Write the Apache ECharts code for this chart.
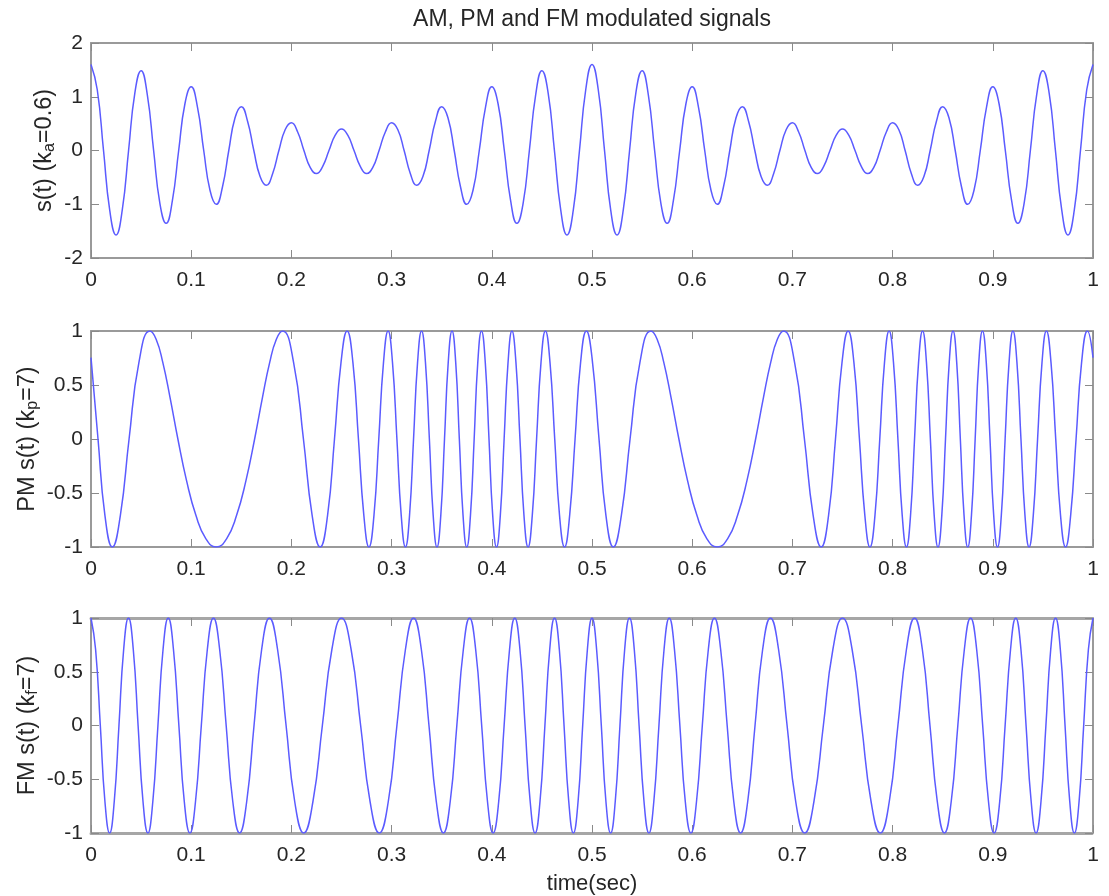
<!DOCTYPE html>
<html><head><meta charset="utf-8">
<script src="https://cdn.jsdelivr.net/npm/echarts@6/dist/echarts.min.js"></script>
<style>html,body{margin:0;padding:0;background:#fff}#c{width:1109px;height:896px}</style>
</head><body><div id="c"></div>
<script>
// ---- data (peaks, troughs, zero crossings and mid-slope points of each trace) ----
const amTime = [0, 0.00625, 0.0125, 0.01875, 0.025, 0.03125, 0.0375, 0.04375, 0.05, 0.05625, 0.0625, 0.06875, 0.075, 0.08125, 0.0875, 0.09375,
  0.1, 0.10625, 0.1125, 0.11875, 0.125, 0.13125, 0.1375, 0.14375, 0.15, 0.15625, 0.1625, 0.16875, 0.175, 0.18125, 0.1875, 0.19375,
  0.2, 0.20625, 0.2125, 0.21875, 0.225, 0.23125, 0.2375, 0.24375, 0.25, 0.25625, 0.2625, 0.26875, 0.275, 0.28125, 0.2875, 0.29375,
  0.3, 0.30625, 0.3125, 0.31875, 0.325, 0.33125, 0.3375, 0.34375, 0.35, 0.35625, 0.3625, 0.36875, 0.375, 0.38125, 0.3875, 0.39375,
  0.4, 0.40625, 0.4125, 0.41875, 0.425, 0.43125, 0.4375, 0.44375, 0.45, 0.45625, 0.4625, 0.46875, 0.475, 0.48125, 0.4875, 0.49375,
  0.5, 0.50625, 0.5125, 0.51875, 0.525, 0.53125, 0.5375, 0.54375, 0.55, 0.55625, 0.5625, 0.56875, 0.575, 0.58125, 0.5875, 0.59375,
  0.6, 0.60625, 0.6125, 0.61875, 0.625, 0.63125, 0.6375, 0.64375, 0.65, 0.65625, 0.6625, 0.66875, 0.675, 0.68125, 0.6875, 0.69375,
  0.7, 0.70625, 0.7125, 0.71875, 0.725, 0.73125, 0.7375, 0.74375, 0.75, 0.75625, 0.7625, 0.76875, 0.775, 0.78125, 0.7875, 0.79375,
  0.8, 0.80625, 0.8125, 0.81875, 0.825, 0.83125, 0.8375, 0.84375, 0.85, 0.85625, 0.8625, 0.86875, 0.875, 0.88125, 0.8875, 0.89375,
  0.9, 0.90625, 0.9125, 0.91875, 0.925, 0.93125, 0.9375, 0.94375, 0.95, 0.95625, 0.9625, 0.96875, 0.975, 0.98125, 0.9875, 0.99375, 1.0];
const amValue = [1.6, 1.130, 0, -1.120, -1.571, -1.099, 0, 1.069, 1.485, 1.030, 0, -0.983, -1.353, -0.929, 0, 0.870,
  1.185, 0.806, 0, -0.740, -1.0, -0.674, 0, 0.608, 0.815, 0.545, 0, -0.485, -0.647, -0.432, 0, 0.385,
  0.515, 0.345, 0, -0.315, -0.429, -0.295, 0, 0.284, 0.4, 0.284, 0, -0.295, -0.429, -0.315, 0, 0.345,
  0.515, 0.385, 0, -0.432, -0.647, -0.485, 0, 0.545, 0.815, 0.608, 0, -0.674, -1.0, -0.740, 0, 0.806,
  1.185, 0.870, 0, -0.929, -1.353, -0.983, 0, 1.030, 1.485, 1.069, 0, -1.099, -1.571, -1.120, 0, 1.130,
  1.6, 1.130, 0, -1.120, -1.571, -1.099, 0, 1.069, 1.485, 1.030, 0, -0.983, -1.353, -0.929, 0, 0.870,
  1.185, 0.806, 0, -0.740, -1.0, -0.674, 0, 0.608, 0.815, 0.545, 0, -0.485, -0.647, -0.432, 0, 0.385,
  0.515, 0.345, 0, -0.315, -0.429, -0.295, 0, 0.284, 0.4, 0.284, 0, -0.295, -0.429, -0.315, 0, 0.345,
  0.515, 0.385, 0, -0.432, -0.647, -0.485, 0, 0.545, 0.815, 0.608, 0, -0.674, -1.0, -0.740, 0, 0.806,
  1.185, 0.870, 0, -0.929, -1.353, -0.983, 0, 1.030, 1.485, 1.069, 0, -1.099, -1.571, -1.120, 0, 1.130, 1.6];

const pmTime = [0, 0.0070, 0.0139, 0.0213, 0.0293, 0.0380, 0.0478, 0.0588,
  0.0650, 0.0717, 0.0789, 0.0867, 0.0953, 0.1047, 0.1147, 0.1250, 0.1353, 0.1453, 0.1547, 0.1633, 0.1711, 0.1783, 0.1850, 0.1912,
  0.2022, 0.2120, 0.2207, 0.2287, 0.2361, 0.2430, 0.2495, 0.2556, 0.2614, 0.2669, 0.2723, 0.2774, 0.2824, 0.2872,
  0.2919, 0.2965, 0.3009, 0.3053, 0.3096, 0.3138, 0.3179, 0.3219, 0.3259, 0.3299,
  0.3338, 0.3377, 0.3415, 0.3453, 0.3491, 0.3528, 0.3565, 0.3603, 0.3640, 0.3676,
  0.3713, 0.3750, 0.3787, 0.3824, 0.3860, 0.3897, 0.3935, 0.3972, 0.4009, 0.4047,
  0.4085, 0.4123, 0.4162, 0.4201, 0.4241, 0.4281, 0.4321, 0.4362, 0.4404, 0.4447,
  0.4491, 0.4535, 0.4581, 0.4628, 0.4676, 0.4726, 0.4777, 0.4831, 0.4886, 0.4944,
  0.5, 0.5070, 0.5139, 0.5213, 0.5293, 0.5380, 0.5478, 0.5588,
  0.5650, 0.5717, 0.5789, 0.5867, 0.5953, 0.6047, 0.6147, 0.6250, 0.6353, 0.6453, 0.6547, 0.6633, 0.6711, 0.6783, 0.6850, 0.6912,
  0.7022, 0.7120, 0.7207, 0.7287, 0.7361, 0.7430, 0.7495, 0.7556, 0.7614, 0.7669, 0.7723, 0.7774, 0.7824, 0.7872,
  0.7919, 0.7965, 0.8009, 0.8053, 0.8096, 0.8138, 0.8179, 0.8219, 0.8259, 0.8299,
  0.8338, 0.8377, 0.8415, 0.8453, 0.8491, 0.8528, 0.8565, 0.8603, 0.8640, 0.8676,
  0.8713, 0.8750, 0.8787, 0.8824, 0.8860, 0.8897, 0.8935, 0.8972, 0.9009, 0.9047,
  0.9085, 0.9123, 0.9162, 0.9201, 0.9241, 0.9281, 0.9321, 0.9362, 0.9404, 0.9447,
  0.9491, 0.9535, 0.9581, 0.9628, 0.9676, 0.9726, 0.9777, 0.9831, 0.9886, 0.9944, 1.0];
const pmValue = [0.754, 0, -0.707, -1, -0.707, 0, 0.707, 1,
  0.924, 0.707, 0.383, 0, -0.383, -0.707, -0.924, -1, -0.924, -0.707, -0.383, 0, 0.383, 0.707, 0.924, 1,
  0.707, 0, -0.707, -1, -0.707, 0, 0.707, 1, 0.707, 0, -0.707, -1, -0.707, 0, 0.707, 1,
  0.707, 0, -0.707, -1, -0.707, 0, 0.707, 1, 0.707, 0, -0.707, -1, -0.707, 0, 0.707, 1,
  0.707, 0, -0.707, -1, -0.707, 0, 0.707, 1, 0.707, 0, -0.707, -1, -0.707, 0, 0.707, 1,
  0.707, 0, -0.707, -1, -0.707, 0, 0.707, 1, 0.707, 0, -0.707, -1, -0.707, 0, 0.707, 1,
  0.754, 0, -0.707, -1, -0.707, 0, 0.707, 1,
  0.924, 0.707, 0.383, 0, -0.383, -0.707, -0.924, -1, -0.924, -0.707, -0.383, 0, 0.383, 0.707, 0.924, 1,
  0.707, 0, -0.707, -1, -0.707, 0, 0.707, 1, 0.707, 0, -0.707, -1, -0.707, 0, 0.707, 1,
  0.707, 0, -0.707, -1, -0.707, 0, 0.707, 1, 0.707, 0, -0.707, -1, -0.707, 0, 0.707, 1,
  0.707, 0, -0.707, -1, -0.707, 0, 0.707, 1, 0.707, 0, -0.707, -1, -0.707, 0, 0.707, 1,
  0.707, 0, -0.707, -1, -0.707, 0, 0.707, 1, 0.707, 0, -0.707, -1, -0.707, 0, 0.707, 1,
  0.754];

const fmTime = [0, 0.0046, 0.0093, 0.0139, 0.0186, 0.0232, 0.0279, 0.0326, 0.0374, 0.0422,
  0.0470, 0.0519, 0.0568, 0.0617, 0.0668, 0.0719, 0.0771, 0.0823, 0.0877, 0.0931,
  0.0987, 0.1043, 0.1101, 0.1161, 0.1222, 0.1284, 0.1349, 0.1415, 0.1483, 0.1554,
  0.1627, 0.1703, 0.1781, 0.1862, 0.1947, 0.2033, 0.2123, 0.2215, 0.2309, 0.2404,
  0.25, 0.2596, 0.2691, 0.2785, 0.2877, 0.2967, 0.3053, 0.3138, 0.3219, 0.3297,
  0.3373, 0.3446, 0.3517, 0.3585, 0.3651, 0.3716, 0.3778, 0.3839, 0.3899, 0.3957,
  0.4013, 0.4069, 0.4123, 0.4177, 0.4229, 0.4281, 0.4332, 0.4383, 0.4432, 0.4481,
  0.4530, 0.4578, 0.4626, 0.4674, 0.4721, 0.4768, 0.4814, 0.4861, 0.4907, 0.4954,
  0.5, 0.5046, 0.5093, 0.5139, 0.5186, 0.5232, 0.5279, 0.5326, 0.5374, 0.5422,
  0.5470, 0.5519, 0.5568, 0.5617, 0.5668, 0.5719, 0.5771, 0.5823, 0.5877, 0.5931,
  0.5987, 0.6043, 0.6101, 0.6161, 0.6222, 0.6284, 0.6349, 0.6415, 0.6483, 0.6554,
  0.6627, 0.6703, 0.6781, 0.6862, 0.6947, 0.7033, 0.7123, 0.7215, 0.7309, 0.7404,
  0.75, 0.7596, 0.7691, 0.7785, 0.7877, 0.7967, 0.8053, 0.8138, 0.8219, 0.8297,
  0.8373, 0.8446, 0.8517, 0.8585, 0.8651, 0.8716, 0.8778, 0.8839, 0.8899, 0.8957,
  0.9013, 0.9069, 0.9123, 0.9177, 0.9229, 0.9281, 0.9332, 0.9383, 0.9432, 0.9481,
  0.9530, 0.9578, 0.9626, 0.9674, 0.9721, 0.9768, 0.9814, 0.9861, 0.9907, 0.9954, 1.0];
const fmValue = [
  1, 0.707, 0, -0.707, -1, -0.707, 0, 0.707, 1, 0.707, 0, -0.707, -1, -0.707, 0, 0.707,
  1, 0.707, 0, -0.707, -1, -0.707, 0, 0.707, 1, 0.707, 0, -0.707, -1, -0.707, 0, 0.707,
  1, 0.707, 0, -0.707, -1, -0.707, 0, 0.707, 1, 0.707, 0, -0.707, -1, -0.707, 0, 0.707,
  1, 0.707, 0, -0.707, -1, -0.707, 0, 0.707, 1, 0.707, 0, -0.707, -1, -0.707, 0, 0.707,
  1, 0.707, 0, -0.707, -1, -0.707, 0, 0.707, 1, 0.707, 0, -0.707, -1, -0.707, 0, 0.707,
  1, 0.707, 0, -0.707, -1, -0.707, 0, 0.707, 1, 0.707, 0, -0.707, -1, -0.707, 0, 0.707,
  1, 0.707, 0, -0.707, -1, -0.707, 0, 0.707, 1, 0.707, 0, -0.707, -1, -0.707, 0, 0.707,
  1, 0.707, 0, -0.707, -1, -0.707, 0, 0.707, 1, 0.707, 0, -0.707, -1, -0.707, 0, 0.707,
  1, 0.707, 0, -0.707, -1, -0.707, 0, 0.707, 1, 0.707, 0, -0.707, -1, -0.707, 0, 0.707,
  1, 0.707, 0, -0.707, -1, -0.707, 0, 0.707, 1, 0.707, 0, -0.707, -1, -0.707, 0, 0.707,
  1];

const titleText = 'AM, PM and FM modulated signals';
const xAxisName = 'time(sec)';
const yAxisNames = ['s(t) (k{sub|a}=0.6)', 'PM s(t) (k{sub|p}=7)', 'FM s(t) (k{sub|f}=7)'];
const xRange = { min: 0, max: 1, interval: 0.1 };
const yRanges = [{ min: -2, max: 2, interval: 1 }, { min: -1, max: 1, interval: 0.5 }, { min: -1, max: 1, interval: 0.5 }];

// ---- styling / layout ----
const FONT = '"Liberation Sans", Arial, Helvetica, sans-serif';
const TXT = '#262626';
const AXC = '#9a9a9a';
const LINE = '#5b5bff';
const gridBoxes = [{ top: 43, height: 215 }, { top: 331, height: 216 }, { top: 618, height: 215 }];
const yNameGaps = [33, 50, 50];

const traces = [[amTime, amValue], [pmTime, pmValue], [fmTime, fmValue]];

const grid = [], xAxis = [], yAxis = [], series = [];
gridBoxes.forEach((g, i) => {
  grid.push({ left: 91, width: 1002, top: g.top, height: g.height, outerBoundsMode: 'none', containLabel: false });
  const dotted = i === 2;
  const hLine = dotted ? { color: '#a6a6a6', width: 3, type: [2, 1] } : { color: AXC, width: 2 };
  const tick = { show: true, inside: true, length: 8, lineStyle: { color: '#8a8a8a', width: 1 } };
  xAxis.push({
    gridIndex: i, type: 'value', position: 'bottom', min: xRange.min, max: xRange.max, interval: xRange.interval,
    axisLine: { show: true, onZero: false, lineStyle: hLine },
    axisTick: tick, splitLine: { show: false },
    axisLabel: { margin: 12, color: TXT, fontSize: 21, fontFamily: FONT },
    name: i === 2 ? xAxisName : '', nameLocation: 'middle', nameGap: 40, nameMoveOverlap: false,
    nameTextStyle: { color: TXT, fontSize: 22, fontFamily: FONT }
  });
  xAxis.push({
    gridIndex: i, type: 'value', position: 'top', min: xRange.min, max: xRange.max, interval: xRange.interval,
    axisLine: { show: true, onZero: false, lineStyle: hLine },
    axisTick: tick, splitLine: { show: false }, axisLabel: { show: false }
  });
  const yr = yRanges[i];
  yAxis.push({
    gridIndex: i, type: 'value', position: 'left', min: yr.min, max: yr.max, interval: yr.interval,
    axisLine: { show: true, onZero: false, lineStyle: { color: AXC, width: 2 } },
    axisTick: tick, splitLine: { show: false },
    axisLabel: { margin: 8, color: TXT, fontSize: 21, fontFamily: FONT },
    name: yAxisNames[i], nameLocation: 'middle', nameGap: yNameGaps[i], nameRotate: 90, nameMoveOverlap: false,
    nameTextStyle: {
      color: TXT, fontSize: 23.5, fontFamily: FONT,
      rich: { sub: { color: TXT, fontSize: 16, fontFamily: FONT, padding: [11, 0, 0, 0] } }
    }
  });
  yAxis.push({
    gridIndex: i, type: 'value', position: 'right', min: yr.min, max: yr.max, interval: yr.interval,
    axisLine: { show: true, onZero: false, lineStyle: { color: AXC, width: 2 } },
    axisTick: tick, splitLine: { show: false }, axisLabel: { show: false }
  });
  const [tArr, vArr] = traces[i];
  series.push({
    type: 'line', xAxisIndex: 2 * i, yAxisIndex: 2 * i,
    data: tArr.map((t, k) => [t, vArr[k]]),
    showSymbol: false, smooth: 0.5, clip: true, silent: true,
    lineStyle: { color: LINE, width: 1.5 }
  });
});

const chart = echarts.init(document.getElementById('c'), null, { renderer: 'canvas' });
chart.setOption({
  animation: false,
  backgroundColor: '#ffffff',
  grid, xAxis, yAxis, series,
  graphic: [{
    type: 'text', x: 592, y: 20,
    style: { text: titleText, fill: TXT, fontSize: 23, fontFamily: FONT, align: 'center', verticalAlign: 'middle' }
  }]
});
</script>
</body></html>
